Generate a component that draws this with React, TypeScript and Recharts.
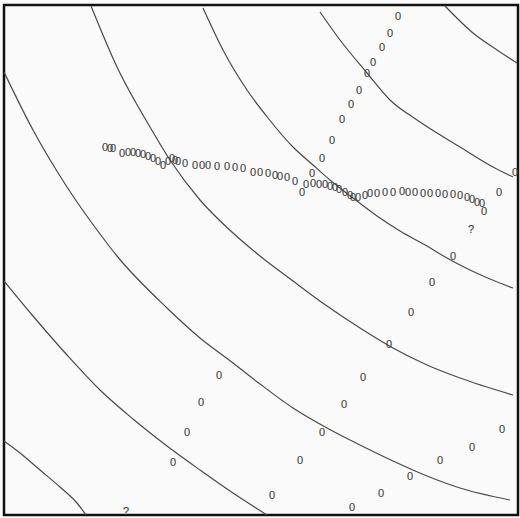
import { ComposedChart, Line, Scatter, XAxis, YAxis, ReferenceArea } from "recharts";

// contour curves (x right, y up)
const curveA = [
  { x: 0, y: 74 }, { x: 16, y: 62 }, { x: 36, y: 45 }, { x: 56, y: 28 }, { x: 73, y: 12 }, { x: 82, y: 0 },
];
const curveB = [
  { x: 0, y: 234 }, { x: 29, y: 199 }, { x: 63, y: 160 }, { x: 96, y: 125 }, { x: 129, y: 96 },
  { x: 163, y: 69 }, { x: 196, y: 45 }, { x: 229, y: 22 }, { x: 263, y: 0 },
];
const curveC = [
  { x: 0, y: 443 }, { x: 29, y: 385 }, { x: 63, y: 328 }, { x: 96, y: 281 }, { x: 113, y: 259 },
  { x: 163, y: 207 }, { x: 196, y: 177 }, { x: 229, y: 152 }, { x: 256, y: 131 }, { x: 289, y: 107 },
  { x: 323, y: 87 }, { x: 356, y: 70 }, { x: 389, y: 54 }, { x: 423, y: 39 }, { x: 456, y: 27 }, { x: 506, y: 15 },
];
const curveD = [
  { x: 87, y: 509 }, { x: 113, y: 448 }, { x: 146, y: 388 }, { x: 166, y: 355 }, { x: 196, y: 315 },
  { x: 229, y: 282 }, { x: 256, y: 259 }, { x: 289, y: 234 }, { x: 323, y: 209 }, { x: 356, y: 187 },
  { x: 389, y: 167 }, { x: 423, y: 150 }, { x: 456, y: 137 }, { x: 509, y: 120 },
];
const curveE = [
  { x: 199, y: 507 }, { x: 219, y: 465 }, { x: 243, y: 425 }, { x: 264, y: 397 }, { x: 289, y: 368 },
  { x: 309, y: 350 }, { x: 326, y: 335 }, { x: 349, y: 317 }, { x: 373, y: 299 }, { x: 396, y: 284 },
  { x: 423, y: 269 }, { x: 443, y: 257 }, { x: 466, y: 245 }, { x: 486, y: 236 }, { x: 509, y: 227 },
];
const curveF = [
  { x: 316, y: 503 }, { x: 336, y: 475 }, { x: 363, y: 442 }, { x: 386, y: 415 }, { x: 413, y: 395 },
  { x: 456, y: 368 }, { x: 489, y: 348 }, { x: 509, y: 338 },
];
const curveG = [
  { x: 441, y: 509 }, { x: 469, y: 482 }, { x: 493, y: 465 }, { x: 513, y: 452 },
];

// "0" symbols
const bandPts = [
  { x: 101, y: 368 }, { x: 106, y: 367 }, { x: 109, y: 367 }, { x: 118, y: 362 }, { x: 124, y: 363 },
  { x: 129, y: 363 }, { x: 134, y: 362 }, { x: 139, y: 361 }, { x: 144, y: 359 }, { x: 149, y: 357 },
  { x: 154, y: 354 }, { x: 159, y: 350 }, { x: 164, y: 354 }, { x: 168, y: 357 }, { x: 171, y: 355 },
  { x: 174, y: 354 }, { x: 181, y: 352 }, { x: 191, y: 350 }, { x: 198, y: 350 }, { x: 204, y: 350 },
  { x: 213, y: 349 }, { x: 223, y: 349 }, { x: 231, y: 348 }, { x: 239, y: 347 }, { x: 249, y: 343 },
  { x: 256, y: 343 }, { x: 264, y: 342 }, { x: 271, y: 340 }, { x: 276, y: 339 }, { x: 283, y: 338 },
  { x: 291, y: 334 }, { x: 302, y: 331 }, { x: 309, y: 332 }, { x: 315, y: 331 }, { x: 321, y: 331 },
  { x: 326, y: 329 }, { x: 331, y: 328 }, { x: 335, y: 326 }, { x: 341, y: 323 }, { x: 346, y: 320 },
  { x: 349, y: 318 }, { x: 354, y: 318 }, { x: 361, y: 320 }, { x: 366, y: 322 }, { x: 373, y: 322 },
  { x: 381, y: 323 }, { x: 389, y: 323 }, { x: 398, y: 324 }, { x: 404, y: 323 }, { x: 411, y: 323 },
  { x: 419, y: 322 }, { x: 426, y: 322 }, { x: 434, y: 322 }, { x: 441, y: 321 }, { x: 449, y: 321 },
  { x: 456, y: 320 }, { x: 463, y: 318 }, { x: 468, y: 316 }, { x: 473, y: 313 }, { x: 478, y: 312 },
];
const risingPts = [
  { x: 394, y: 499 }, { x: 386, y: 482 }, { x: 378, y: 468 }, { x: 369, y: 453 }, { x: 363, y: 442 },
  { x: 355, y: 425 }, { x: 347, y: 411 }, { x: 338, y: 396 }, { x: 328, y: 375 }, { x: 318, y: 357 },
  { x: 308, y: 342 }, { x: 298, y: 323 },
];
const fallingPts = [
  { x: 480, y: 304 }, { x: 449, y: 259 }, { x: 428, y: 233 }, { x: 407, y: 203 }, { x: 385, y: 171 },
  { x: 359, y: 138 }, { x: 340, y: 111 }, { x: 318, y: 83 }, { x: 296, y: 55 }, { x: 268, y: 20 },
];
const leftPts = [
  { x: 215, y: 140 }, { x: 197, y: 113 }, { x: 183, y: 83 }, { x: 169, y: 53 },
];
const lowRightPts = [
  { x: 498, y: 86 }, { x: 468, y: 68 }, { x: 436, y: 55 }, { x: 406, y: 39 }, { x: 377, y: 22 }, { x: 348, y: 8 },
];
const edgePts = [
  { x: 495, y: 323 }, { x: 511, y: 343 },
];
const questionPts = [
  { x: 467, y: 286 }, { x: 122, y: 4 },
];

const curves = [curveA, curveB, curveC, curveD, curveE, curveF, curveG];
const zeroPts = [...bandPts, ...risingPts, ...fallingPts, ...leftPts, ...lowRightPts, ...edgePts];

const glyph = (ch: string) => (props: any) => (
  <text
    x={props.cx}
    y={props.cy}
    textAnchor="middle"
    dominantBaseline="central"
    fontFamily="'Liberation Sans', Arial, sans-serif"
    fontSize={11}
    fill="#444"
    stroke="#444"
    strokeWidth={0.15}
  >
    {ch}
  </text>
);

export default function App() {
  return (
    <div style={{ position: "absolute", left: 0, top: 0, background: "#fafafa" }}>
      <ComposedChart width={520} height={518} margin={{ top: 5, right: 2, bottom: 3, left: 4 }}>
        <XAxis dataKey="x" type="number" domain={[0, 514]} hide allowDataOverflow />
        <YAxis dataKey="y" type="number" domain={[0, 510]} hide allowDataOverflow />
        {curves.map((c, i) => (
          <Line
            key={i}
            data={c}
            dataKey="y"
            type="monotone"
            stroke="#4a4a4a"
            strokeWidth={1.2}
            dot={false}
            activeDot={false}
            isAnimationActive={false}
          />
        ))}
        <Scatter data={zeroPts} dataKey="y" shape={glyph("0")} isAnimationActive={false} />
        <Scatter data={questionPts} dataKey="y" shape={glyph("?")} isAnimationActive={false} />
        <ReferenceArea x1={0} x2={514} y1={0} y2={510} fill="none" stroke="#111" strokeWidth={2.5} ifOverflow="visible" />
      </ComposedChart>
    </div>
  );
}
